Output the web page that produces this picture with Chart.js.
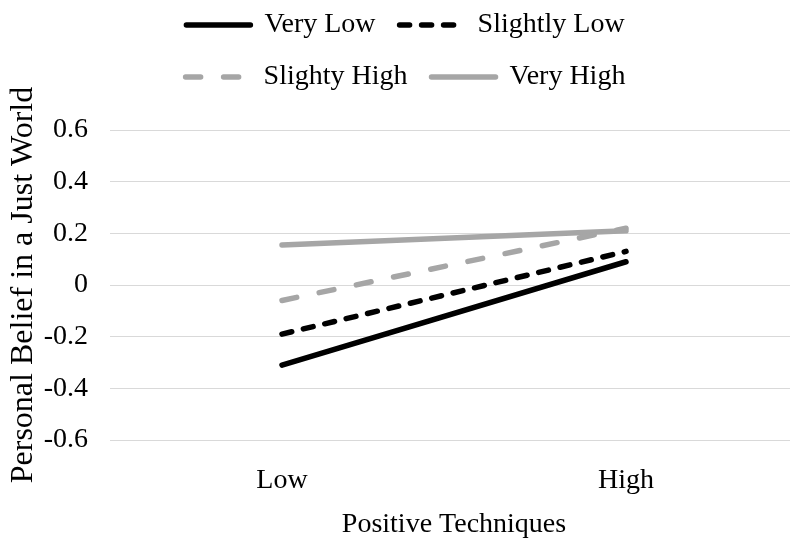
<!DOCTYPE html>
<html>
<head>
<meta charset="utf-8">
<script src="https://cdn.jsdelivr.net/npm/chart.js@4.4.1/dist/chart.umd.min.js"></script>
<style>
  html, body { margin: 0; padding: 0; background: #fff; overflow: hidden; }
</style>
</head>
<body>
<canvas id="interactionChart" width="800" height="544"></canvas>
<script>
// ================= DATA =================
const categories = ['Low', 'High'];
const veryLow = [-0.31, 0.09];
const slightlyLow = [-0.19, 0.13];
const slightyHigh = [-0.06, 0.22];
const veryHigh = [0.155, 0.21];
const yTicks = ['-0.6', '-0.4', '-0.2', '0', '0.2', '0.4', '0.6'];

const serif = "'Liberation Serif', 'Times New Roman', serif";
const grey = '#a6a6a6';

// two legend rows of two items, lifted a bit, with room below them
const legendLayout = {
    id: 'legendLayout',
    beforeInit(chart) {
        const origFit = chart.legend.fit;
        chart.legend.fit = function () {
            this.maxWidth = Math.min(this.maxWidth, 650);
            origFit.bind(chart.legend)();
            this.height += 16;
        };
    },
    afterLayout(chart) {
        const lg = chart.legend;
        lg.left = 155;
        lg.right = 656;
        lg.width = 501;
        lg.top -= 13;
        lg.bottom -= 13;
    }
};

const ctx = document.getElementById('interactionChart').getContext('2d');
new Chart(ctx, {
    type: 'line',
    data: {
        labels: categories,
        datasets: [
            { label: 'Very Low', data: veryLow, borderColor: '#000' },
            { label: 'Slightly Low', data: slightlyLow, borderColor: '#000', borderDash: [10, 12] },
            { label: 'Slighty High', data: slightyHigh, borderColor: grey, borderDash: [15, 23] },
            { label: 'Very High', data: veryHigh, borderColor: grey }
        ].map(d => Object.assign(d, { backgroundColor: d.borderColor, borderWidth: 5.5, borderCapStyle: 'round', pointRadius: 0, tension: 0, fill: false }))
    },
    options: {
        responsive: false,
        animation: false,
        layout: { padding: { top: 0, left: 0, right: 2, bottom: 0 } },
        plugins: {
            tooltip: { enabled: false },
            legend: {
                position: 'top',
                labels: {
                    usePointStyle: true,
                    pointStyle: 'line',
                    pointStyleWidth: 64,
                    padding: 24,
                    color: '#000',
                    font: { family: serif, size: 28 },
                    generateLabels(chart) {
                        const items = Chart.defaults.plugins.legend.labels.generateLabels(chart);
                        items.forEach(it => {
                            const ds = chart.data.datasets[it.datasetIndex];
                            it.lineDash = ds.borderDash || [];
                            it.lineWidth = ds.borderWidth;
                            it.lineCap = 'round';
                            it.strokeStyle = ds.borderColor;
                        });
                        return items;
                    }
                }
            }
        },
        scales: {
            x: {
                type: 'category',
                offset: true,
                grid: { display: false, drawTicks: false },
                border: { display: false },
                ticks: { color: '#000', padding: 24, font: { family: serif, size: 28 } },
                title: { display: true, text: 'Positive Techniques', color: '#000', padding: { top: 4, bottom: 3 }, font: { family: serif, size: 28 } },
                afterFit(scale) { scale.height = 104; }
            },
            y: {
                min: -0.6,
                max: 0.6,
                grid: { color: '#d9d9d9', lineWidth: 1, drawTicks: false },
                border: { display: false },
                ticks: {
                    stepSize: 0.2,
                    color: '#000',
                    padding: 22,
                    font: { family: serif, size: 28 },
                    callback: (v, i) => yTicks[i]
                },
                title: { display: true, text: 'Personal Belief in a Just World', color: '#000', padding: { top: 4, bottom: 4 }, font: { family: serif, size: 32 } },
                afterFit(scale) { scale.width = 110; }
            }
        }
    },
    plugins: [legendLayout]
});
</script>
</body>
</html>
